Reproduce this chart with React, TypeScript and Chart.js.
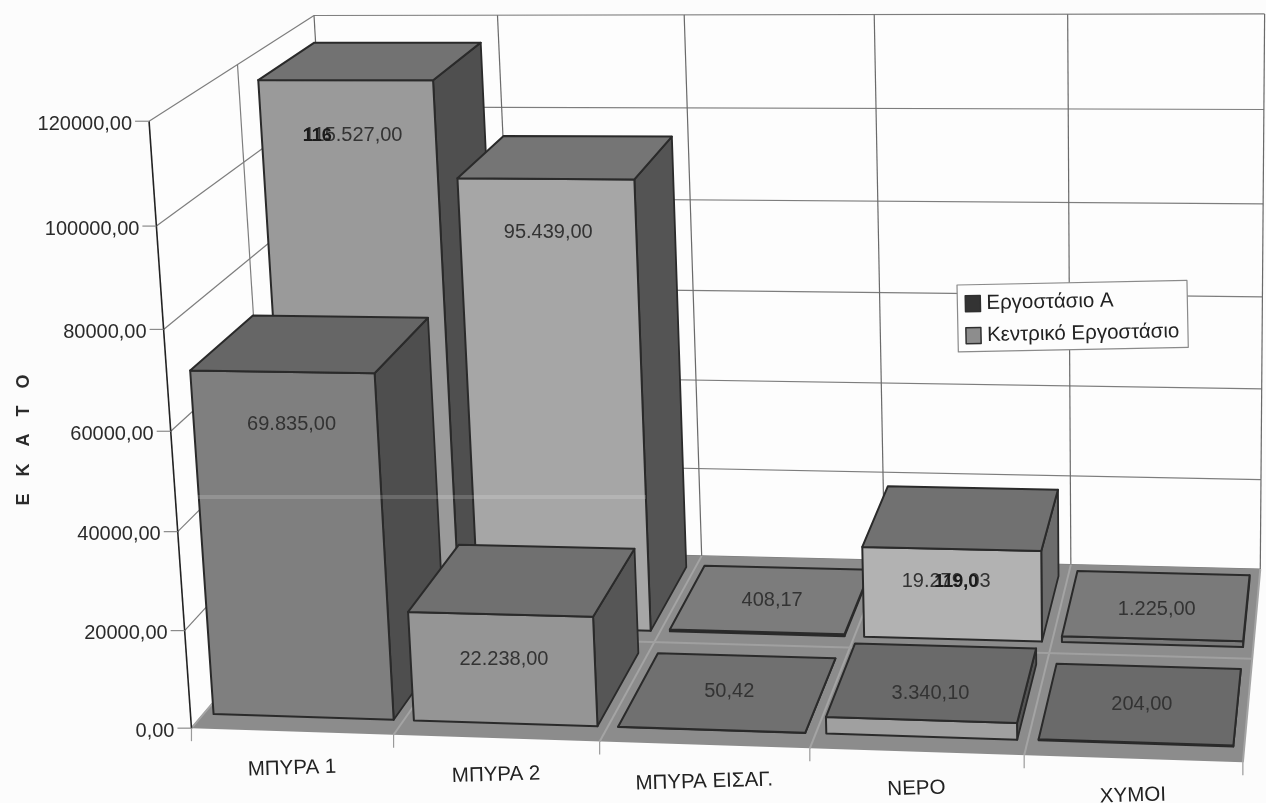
import React, { useEffect, useRef } from "react";
import { Chart, registerables } from "chart.js";

Chart.register(...registerables);

const categories = ["ΜΠΥΡΑ 1", "ΜΠΥΡΑ 2", "ΜΠΥΡΑ ΕΙΣΑΓ.", "ΝΕΡΟ", "ΧΥΜΟΙ"];
const factoryA = [69835, 22238, 50.42, 3340.1, 204];
const centralFactory = [115527, 95439, 408.17, 19279.03, 1225];
const seriesNames = ["Εργοστάσιο Α", "Κεντρικό Εργοστάσιο"];
const axisTitle = "Ε Κ Α Τ Ο";

const frontColorsA = ["#7f7f7f", "#959595", "#6b6b6b", "#a0a0a0", "#696969"];
const frontColorsB = ["#9a9a9a", "#a6a6a6", "#7a7a7a", "#b2b2b2", "#7a7a7a"];
const topColorsA = ["#666666", "#707070", "#707070", "#6a6a6a", "#6a6a6a"];
const topColorsB = ["#727272", "#757575", "#7c7c7c", "#717171", "#7a7a7a"];
const sideColorsA = ["#4e4e4e", "#565656", "#555555", "#555555", "#555555"];
const sideColorsB = ["#4f4f4f", "#545454", "#555555", "#6c6c6c", "#555555"];
const inkOverlays: Record<string, [string, number]> = { "1-0": ["116", -36], "1-3": ["119,0", 10] };

// Perspective camera fitted to where the chart's box appears in the photo: [u, v, h, X, Y]
const cameraFit = [
  [0, 0, 0, 193, 728], [0.2, 0, 0, 394, 737], [0.4, 0, 0, 600, 743], [0.6, 0, 0, 808, 748],
  [0.8, 0, 0, 1024, 755], [1, 0, 0, 1242, 763], [0, 0, 1, 150, 120], [0, 0, 0.5, 172, 432],
  [0, 0, 0.8333, 156, 222], [0, 1, 1, 316, 15], [0.2, 1, 1, 497, 15], [0.4, 1, 1, 683, 15],
  [0.6, 1, 1, 874, 15], [0.8, 1, 1, 1070, 15], [1, 1, 1, 1264, 15], [0.4, 1, 0, 700, 557],
  [0.6, 1, 0, 884, 559], [0.8, 1, 0, 1072, 563], [1, 1, 0, 1262, 567], [0.4, 1, 0.5, 692, 292],
  [0, 0.5, 1, 235, 66],
];

function solveCamera(points: number[][]) {
  const n = 11;
  const M = Array.from({ length: n }, () => new Array(n + 1).fill(0));
  const add = (r: number[], b: number) => {
    for (let i = 0; i < n; i++) {
      for (let j = 0; j < n; j++) M[i][j] += r[i] * r[j];
      M[i][n] += r[i] * b;
    }
  };
  for (const [u, v, h, X0, Y0] of points) {
    const X = X0 / 1000, Y = Y0 / 1000;
    add([u, v, h, 1, 0, 0, 0, 0, -X * u, -X * v, -X * h], X);
    add([0, 0, 0, 0, u, v, h, 1, -Y * u, -Y * v, -Y * h], Y);
  }
  for (let c = 0; c < n; c++) {
    let p = c;
    for (let r = c + 1; r < n; r++) if (Math.abs(M[r][c]) > Math.abs(M[p][c])) p = r;
    [M[c], M[p]] = [M[p], M[c]];
    for (let r = 0; r < n; r++) {
      if (r === c) continue;
      const f = M[r][c] / M[c][c];
      for (let k = c; k <= n; k++) M[r][k] -= f * M[c][k];
    }
  }
  return M.map((row, i) => row[n] / row[i]);
}
const cam = solveCamera(cameraFit);
function project(u: number, v: number, h: number): [number, number] {
  const w = cam[8] * u + cam[9] * v + cam[10] * h + 1;
  return [
    (1000 * (cam[0] * u + cam[1] * v + cam[2] * h + cam[3])) / w,
    (1000 * (cam[4] * u + cam[5] * v + cam[6] * h + cam[7])) / w,
  ];
}

const FONT = '"Liberation Sans", Arial, sans-serif';
const fmt = (v: number) => {
  const [i, d] = v.toFixed(2).split(".");
  return i.replace(/\B(?=(\d{3})+$)/g, ".") + "," + d;
};

function poly(ctx: CanvasRenderingContext2D, pts: [number, number][], fill: string | null, stroke?: string, lw = 1) {
  ctx.beginPath();
  pts.forEach((p, i) => (i ? ctx.lineTo(p[0], p[1]) : ctx.moveTo(p[0], p[1])));
  ctx.closePath();
  if (fill) { ctx.fillStyle = fill; ctx.fill(); }
  if (stroke) { ctx.strokeStyle = stroke; ctx.lineWidth = lw; ctx.lineJoin = "round"; ctx.stroke(); }
}
function seg(ctx: CanvasRenderingContext2D, a: [number, number], b: [number, number], color: string, lw = 1) {
  ctx.beginPath(); ctx.moveTo(a[0], a[1]); ctx.lineTo(b[0], b[1]);
  ctx.strokeStyle = color; ctx.lineWidth = lw; ctx.stroke();
}

const box3d = {
  id: "box3d",
  beforeDatasetsDraw(chart: any) {
    const { ctx, scales } = chart;
    const x = scales.x, y = scales.y;
    const hOf = (val: number) => (y.bottom - y.getPixelForValue(val)) / (y.bottom - y.top);
    const uOf = (i: number) => (x.getPixelForTick(i) - x.left) / x.width;
    const catW = 1 / categories.length;
    const yTicks: any[] = y.ticks;

    ctx.save();
    // walls
    poly(ctx, [project(0, 0, 0), project(0, 0, 1), project(0, 1, 1), project(0, 1, 0)], "#fdfdfd");
    poly(ctx, [project(0, 1, 0), project(0, 1, 1), project(1, 1, 1), project(1, 1, 0)], "#fdfdfd");
    const grid = "#7d7d7d";
    yTicks.forEach((t) => {
      const h = hOf(t.value);
      seg(ctx, project(0, 0, h), project(0, 1, h), grid, 1.2);
      seg(ctx, project(0, 1, h), project(1, 1, h), grid, 1.2);
    });
    for (let i = 0; i <= categories.length; i++) {
      const u = i * catW;
      seg(ctx, project(u, 1, 0), project(u, 1, 1), "#6a6a6a", 1.2);
    }
    seg(ctx, project(0, 0.5, 0), project(0, 0.5, 1), grid, 1.2);

    // floor
    poly(ctx, [project(0, 0, 0), project(1, 0, 0), project(1, 1, 0), project(0, 1, 0)], "#8c8c8c");
    for (let i = 0; i <= categories.length; i++) {
      const u = i * catW;
      seg(ctx, project(u, 0, 0), project(u, 1, 0), "#a4a4a4", 2);
      seg(ctx, project(u, 0, 0), [project(u, 0, 0)[0], project(u, 0, 0)[1] + 13], "#9a9a9a", 1.2);
    }
    seg(ctx, project(0, 0.5, 0), project(1, 0.5, 0), "#a0a0a0", 2);
    // value axis
    seg(ctx, project(0, 0, 0), project(0, 0, 1), "#222222", 1.6);

    // tick labels
    ctx.textBaseline = "middle";
    ctx.fillStyle = "#2b2b2b";
    ctx.font = `20px ${FONT}`;
    ctx.textAlign = "right";
    yTicks.forEach((t) => {
      const p = project(0, 0, hOf(t.value));
      seg(ctx, [p[0] - 14, p[1]], p, "#8a8a8a", 1.2);
      ctx.fillStyle = "#2b2b2b";
      ctx.fillText(t.label, p[0] - 17, p[1] + 3);
    });
    ctx.textAlign = "center";
    ctx.font = `20.5px ${FONT}`;
    categories.forEach((_, i) => {
      const p = project(uOf(i), 0, 0);
      ctx.save();
      ctx.translate(p[0], p[1] + 37);
      ctx.rotate(-0.03);
      ctx.fillStyle = "#222222";
      ctx.fillText(x.getLabelForValue(i), 0, 0);
      ctx.restore();
    });
    // axis title
    ctx.save();
    ctx.translate(24, 437);
    ctx.rotate(-Math.PI / 2);
    ctx.font = `bold 18px ${FONT}`;
    (ctx as any).letterSpacing = "6px";
    ctx.fillStyle = "#2b2b2b";
    ctx.fillText(axisTitle, 0, 0);
    ctx.restore();

    // bars: back row first, left to right
    const rows = [
      { ds: 1, v0: 0.56, v1: 0.93, top: topColorsB, side: sideColorsB, extra: 0 },
      { ds: 0, v0: 0.07, v1: 0.44, top: topColorsA, side: sideColorsA, extra: 6 },
    ];
    const margin = 0.05 * catW;
    const texts: (() => void)[] = [];
    rows.forEach((row) => {
      const ds = chart.data.datasets[row.ds];
      ds.data.forEach((val: number, i: number) => {
        const c = uOf(i);
        const u0 = c - catW / 2 + margin, u1 = c + catW / 2 - margin;
        const h = hOf(val);
        const { v0, v1 } = row;
        const line = "#2a2a2a";
        poly(ctx, [project(u1, v0, 0), project(u1, v1, 0), project(u1, v1, h), project(u1, v0, h)], row.side[i], line, 1.8);
        poly(ctx, [project(u0, v0, 0), project(u1, v0, 0), project(u1, v0, h), project(u0, v0, h)], ds.backgroundColor[i], line, 2);
        poly(ctx, [project(u0, v0, h), project(u1, v0, h), project(u1, v1, h), project(u0, v1, h)], row.top[i], line, 2);
        const tc = project(c, (v0 + v1) / 2, h);
        const drop = Math.min(75, h * 400) + row.extra * Math.min(1, h * 5);
        const lx = tc[0] - drop * 0.25, ly = tc[1] + drop;
        texts.push(() => {
          ctx.textAlign = "center";
          ctx.textBaseline = "middle";
          ctx.font = `20px ${FONT}`;
          ctx.fillStyle = "#333333";
          ctx.fillText(fmt(val), lx, ly);
          const ink = inkOverlays[`${row.ds}-${i}`];
          if (ink) {
            ctx.font = `bold 18px ${FONT}`;
            ctx.fillStyle = "#1a1a1a";
            ctx.fillText(ink[0], lx + ink[1], ly);
          }
        });
      });
    });
    texts.forEach((d) => d());

    // faint light streak the scan left across the tall bars
    ctx.fillStyle = "rgba(255,255,255,0.16)";
    ctx.fillRect(196, 495, 450, 4);

    // legend
    ctx.save();
    ctx.translate(957, 285);
    ctx.rotate(-0.02);
    ctx.fillStyle = "#fdfdfd";
    ctx.fillRect(0, 0, 230, 67);
    ctx.strokeStyle = "#8a8a8a";
    ctx.lineWidth = 1.2;
    ctx.strokeRect(0, 0, 230, 67);
    ctx.font = `20.5px ${FONT}`;
    ctx.textAlign = "left";
    ctx.textBaseline = "middle";
    const swatch = ["#333333", "#8d8d8d"];
    seriesNames.forEach((name, i) => {
      const yy = 19 + i * 32;
      ctx.fillStyle = swatch[i];
      ctx.fillRect(8, yy - 8, 15, 16);
      ctx.strokeStyle = "#2f2f2f";
      ctx.lineWidth = 1.5;
      ctx.strokeRect(8, yy - 8, 15, 16);
      ctx.fillStyle = "#222222";
      ctx.fillText(name, 29, yy);
    });
    ctx.restore();
    ctx.restore();
    return false;
  },
};

export default function App() {
  const ref = useRef<HTMLCanvasElement>(null);
  useEffect(() => {
    const chart = new Chart(ref.current!, {
      type: "bar",
      data: {
        labels: categories,
        datasets: [
          { label: seriesNames[0], data: factoryA, backgroundColor: frontColorsA },
          { label: seriesNames[1], data: centralFactory, backgroundColor: frontColorsB },
        ],
      },
      options: {
        animation: false,
        responsive: false,
        plugins: { legend: { display: false }, tooltip: { enabled: false } },
        scales: {
          x: { display: false },
          y: {
            display: false,
            min: 0,
            max: 120000,
            ticks: { stepSize: 20000, callback: (v: any) => Number(v).toFixed(2).replace(".", ",") },
          },
        },
      },
      plugins: [box3d],
    } as any);
    return () => chart.destroy();
  }, []);
  return (
    <div style={{ position: "fixed", left: 0, top: 0, width: 1266, height: 803, background: "#fcfcfc" }}>
      <canvas ref={ref} width={1266} height={803} style={{ display: "block", filter: "blur(0.5px)" }} />
    </div>
  );
}
